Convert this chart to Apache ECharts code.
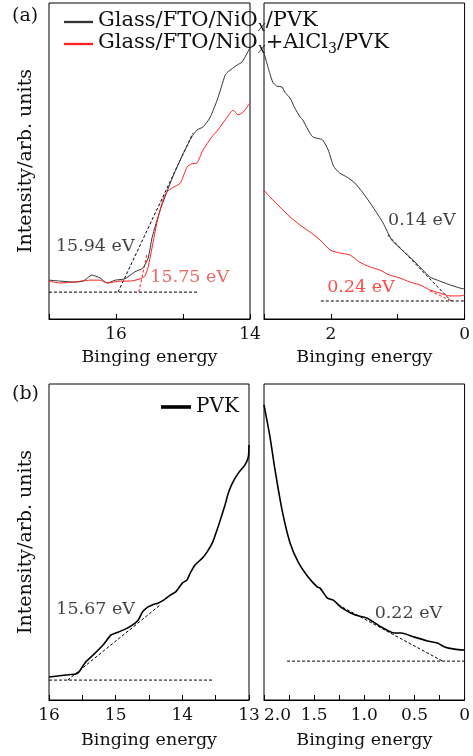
<!DOCTYPE html>
<html>
<head>
<meta charset="utf-8">
<script src="https://cdn.jsdelivr.net/npm/echarts@6/dist/echarts.min.js"></script>
<style>html,body{margin:0;padding:0;background:#fff;}#c{width:473px;height:756px;}</style>
</head>
<body>
<div id="c"></div>
<script>
// ---------- data ----------
const nameA = 'Glass/FTO/NiOx/PVK';
const nameB = 'Glass/FTO/NiOx+AlCl3/PVK';
const nameC = 'PVK';

// (a) left panel: cutoff region
const aLeftBlackE = [17.00,16.84,16.61,16.49,16.36,16.24,16.13,16.01,15.87,15.72,15.60,15.52,15.46,15.34,15.27,15.19,15.09,14.97,14.87,14.79,14.70,14.60,14.49,14.37,14.33,14.19,14.12,14.04,14.00];
const aLeftBlackI = [12.3,12.0,11.7,12.0,13.9,13.0,11.4,12.3,12.7,14.9,16.1,19.3,25.9,34.5,38.6,43.0,48.1,53.5,57.6,59.8,60.8,63.6,69.3,77.2,78.2,80.4,81.3,84.2,85.8];
const aLeftRedE = [17.00,16.84,16.61,16.39,16.24,16.13,15.94,15.79,15.64,15.57,15.52,15.46,15.39,15.30,15.24,15.16,15.04,14.94,14.87,14.79,14.70,14.57,14.48,14.37,14.25,14.18,14.10,14.00];
const aLeftRedI = [12.0,11.4,11.7,12.3,12.3,11.4,12.0,12.0,12.7,13.6,16.5,22.8,30.4,37.7,40.2,41.5,43.0,48.1,49.1,49.4,53.5,57.6,59.8,63.0,66.1,64.6,65.5,68.4];

// (a) right panel: onset region
const aRightBlackE = [3.00,2.94,2.87,2.81,2.73,2.69,2.61,2.54,2.46,2.42,2.34,2.27,2.16,2.12,2.04,1.96,1.87,1.76,1.64,1.52,1.37,1.22,1.09,0.97,0.82,0.67,0.52,0.37,0.22,0.07,0.00];
const aRightBlackI = [84.2,79.7,75.0,73.7,73.4,71.8,69.9,66.8,63.9,63.0,59.8,57.6,57.0,56.6,53.5,48.4,46.2,44.9,43.0,39.9,35.4,30.4,25.0,22.5,19.6,16.5,13.3,12.0,10.8,9.8,9.5];
const aRightRedE = [3.00,2.91,2.76,2.61,2.46,2.31,2.16,2.01,1.87,1.72,1.57,1.42,1.27,1.12,0.97,0.82,0.67,0.52,0.37,0.22,0.07,0.00];
const aRightRedI = [40.8,38.6,35.4,32.3,29.7,27.5,25.0,21.8,20.9,20.3,18.0,16.5,15.5,13.9,13.0,11.7,10.8,9.2,8.2,7.3,7.3,7.6];

// (b) left / right panels
const bLeftE = [16.00,15.75,15.60,15.55,15.45,15.34,15.19,15.07,15.00,14.88,14.75,14.66,14.60,14.52,14.45,14.36,14.28,14.18,14.10,14.00,13.93,13.88,13.81,13.70,13.63,13.55,13.48,13.43,13.36,13.31,13.24,13.16,13.06,13.01,13.00];
const bLeftI = [7.3,7.9,8.2,8.9,12.0,14.2,17.4,20.6,21.2,22.2,23.7,25.3,27.8,29.4,30.1,30.7,31.6,33.2,34.2,37.0,38.0,40.2,42.7,44.9,46.8,49.7,53.8,57.0,61.7,65.5,69.0,71.8,74.4,76.9,80.7];
const bRightE = [2.00,1.94,1.89,1.82,1.74,1.66,1.56,1.47,1.44,1.37,1.31,1.22,1.09,0.97,0.83,0.70,0.63,0.50,0.37,0.27,0.20,0.10,0.00];
const bRightI = [93.4,83.2,72.8,60.1,49.7,43.7,38.9,35.8,35.4,32.3,31.6,29.1,26.9,25.9,23.1,21.2,21.2,19.9,18.7,18.0,16.8,16.1,15.8];

// dashed construction lines [E0,E1],[I0,I1]
const aLeftBaseE = [17.0,14.78], aLeftBaseI = [8.5,8.5];
const aLeftBlackTanE = [15.97,14.85], aLeftBlackTanI = [8.5,58.9];
const aLeftRedTanE = [15.66,15.54], aLeftRedTanI = [8.5,20.3];
const aRightBaseE = [2.15,0], aRightBaseI = [5.7,5.7];
const aRightBlackTanE = [1.15,0.20], aRightBlackTanI = [26.6,5.7];
const aRightRedTanE = [0.52,0.19], aRightRedTanI = [8.9,5.7];
const bLeftBaseE = [16.0,13.55], bLeftBaseI = [6.3,6.3];
const bLeftTanE = [15.72,14.33], bLeftTanI = [6.3,30.1];
const bRightBaseE = [1.77,0], bRightBaseI = [12.3,12.3];
const bRightTanE = [1.26,0.22], bRightTanI = [30.1,12.3];

// annotations
const annText = ['15.94 eV','15.75 eV','0.14 eV','0.24 eV','15.67 eV','0.22 eV'];
const annPanel = [0,0,1,1,2,3];
const annE = [16.31,14.90,0.64,1.55,15.30,0.56];
const annI = [23.1,13.3,31.3,10.1,28.5,27.5];

// ---------- styles ----------
const FONT = 'DejaVu Serif';
const BLACK = '#333', RED = '#ff2020';
const annColor = ['#111','#ee4040','#111','#ff1a1a','#111','#111'];

function pts(E, I){ return E.map((e,i)=>[e, I[i]]); }

const grids = [
  {left:49, top:3, width:201, height:316},
  {left:264, top:3, width:201, height:316},
  {left:49, top:384, width:200, height:316},
  {left:264, top:384, width:201, height:316}
].map(g => Object.assign(g, {show:true, borderColor:'#000', borderWidth:1, backgroundColor:'transparent'}));

function xAx(idx, min, max, interval, fmt, gap){
  return {
    gridIndex: idx, type:'value', inverse:true, min, max, interval,
    axisLine:{show:true, lineStyle:{color:'#000', width:1}},
    axisTick:{show:true, inside:true, length:5, lineStyle:{color:'#000'}},
    splitLine:{show:false},
    axisLabel:{color:'#111', fontFamily:FONT, fontSize:17, margin:7, formatter:fmt,
      showMinLabel:true, showMaxLabel:true, alignMaxLabel: idx===3 ? 'left' : 'center'},
    name:'Binging energy', nameLocation:'middle', nameGap:gap,
    nameTextStyle:{color:'#111', fontFamily:FONT, fontSize:17.5}
  };
}
const evenFmt = v => (Math.abs(v % 2) < 1e-6 ? String(v) : '');
const halfFmt = v => (Math.abs(v*2 - Math.round(v*2)) < 1e-6 ? (v === 0 ? '0' : v.toFixed(1)) : '');
const intFmt = v => (Math.abs(v - Math.round(v)) < 1e-6 ? String(Math.round(v)) : '');

const xAxes = [
  xAx(0, 14, 17, 1, evenFmt, 29),
  xAx(1, 0, 3, 1, evenFmt, 29),
  xAx(2, 13, 16, 0.5, intFmt, 31),
  xAx(3, 0, 2, 0.25, halfFmt, 31)
];
const yAxes = [0,1,2,3].map(i => ({
  gridIndex:i, type:'value', min:0, max:100,
  axisLine:{show:false}, axisTick:{show:false}, axisLabel:{show:false}, splitLine:{show:false},
  name: (i===0||i===2) ? 'Intensity/arb. units' : '',
  nameLocation:'middle', nameGap:13,
  nameTextStyle:{color:'#111', fontFamily:FONT, fontSize:19}
}));

function curve(name, gi, E, I, color, width){
  return {name, type:'line', xAxisIndex:gi, yAxisIndex:gi, data:pts(E,I), symbol:'none', smooth:0.2,
    lineStyle:{color, width}, itemStyle:{color}, z:3};
}
function dash(gi, E, I, color){
  return {name:'_dash', type:'line', xAxisIndex:gi, yAxisIndex:gi, data:pts(E,I), symbol:'none',
    lineStyle:{color, width:1, type:[3,2]}, itemStyle:{color}, z:2, silent:true};
}

const series = [
  curve(nameA, 0, aLeftBlackE, aLeftBlackI, BLACK, 1),
  curve(nameB, 0, aLeftRedE, aLeftRedI, RED, 1),
  curve(nameA, 1, aRightBlackE, aRightBlackI, BLACK, 1),
  curve(nameB, 1, aRightRedE, aRightRedI, RED, 1),
  curve(nameC, 2, bLeftE, bLeftI, '#000', 1.6),
  curve(nameC, 3, bRightE, bRightI, '#000', 1.6),
  dash(0, aLeftBaseE, aLeftBaseI, '#000'),
  dash(0, aLeftBlackTanE, aLeftBlackTanI, '#000'),
  dash(0, aLeftRedTanE, aLeftRedTanI, '#ff2020'),
  dash(1, aRightBaseE, aRightBaseI, '#000'),
  dash(1, aRightBlackTanE, aRightBlackTanI, '#000'),
  dash(1, aRightRedTanE, aRightRedTanI, '#ff2020'),
  dash(2, bLeftBaseE, bLeftBaseI, '#000'),
  dash(2, bLeftTanE, bLeftTanI, '#000'),
  dash(3, bRightBaseE, bRightBaseI, '#000'),
  dash(3, bRightTanE, bRightTanI, '#000')
];
annText.forEach((t, k) => {
  series.push({
    name:'_ann', type:'scatter', xAxisIndex:annPanel[k], yAxisIndex:annPanel[k],
    data:[[annE[k], annI[k]]], symbolSize:0, silent:true, z:5,
    label:{show:true, position:'inside', formatter:t, color:annColor[k], fontFamily:FONT, fontSize:17.5}
  });
});

const legendRich = {
  m:{fontFamily:FONT, fontSize:21, color:'#111', lineHeight:24, verticalAlign:'top'},
  sub:{fontFamily:FONT, fontSize:14, fontStyle:'italic', color:'#111', padding:[10,0,0,0], verticalAlign:'top'},
  sub3:{fontFamily:FONT, fontSize:14, color:'#111', padding:[10,0,0,0], verticalAlign:'top'}
};
const option = {
  animation:false,
  backgroundColor:'#fff',
  grid: grids,
  xAxis: xAxes,
  yAxis: yAxes,
  legend: [
    {data:[nameA, nameB], orient:'vertical', left:59, top:5, itemWidth:29, itemHeight:12, itemGap:-2,
     icon:'path://M0,0 L1,0 L1,0.08 L0,0.08 Z',
     textStyle:{fontFamily:FONT, fontSize:21, color:'#111', rich:legendRich},
     formatter: n => n === nameA ? '{m|Glass/FTO/NiO}{sub|x}{m|/PVK}' : '{m|Glass/FTO/NiO}{sub|x}{m|+AlCl}{sub3|3}{m|/PVK}'},
    {data:[nameC], orient:'vertical', left:156, top:391, itemWidth:30, itemHeight:12,
     icon:'path://M0,0 L1,0 L1,0.12 L0,0.12 Z',
     textStyle:{fontFamily:FONT, fontSize:20, color:'#111', lineHeight:22}}
  ],
  graphic: [
    {type:'text', left:12, top:7, style:{text:'(a)', fontFamily:FONT, fontSize:19, fill:'#111'}},
    {type:'text', left:12, top:385, style:{text:'(b)', fontFamily:FONT, fontSize:19, fill:'#111'}}
  ],
  series
};
const chart = echarts.init(document.getElementById('c'), null, {renderer:'canvas'});
chart.setOption(option);
</script>
</body>
</html>
